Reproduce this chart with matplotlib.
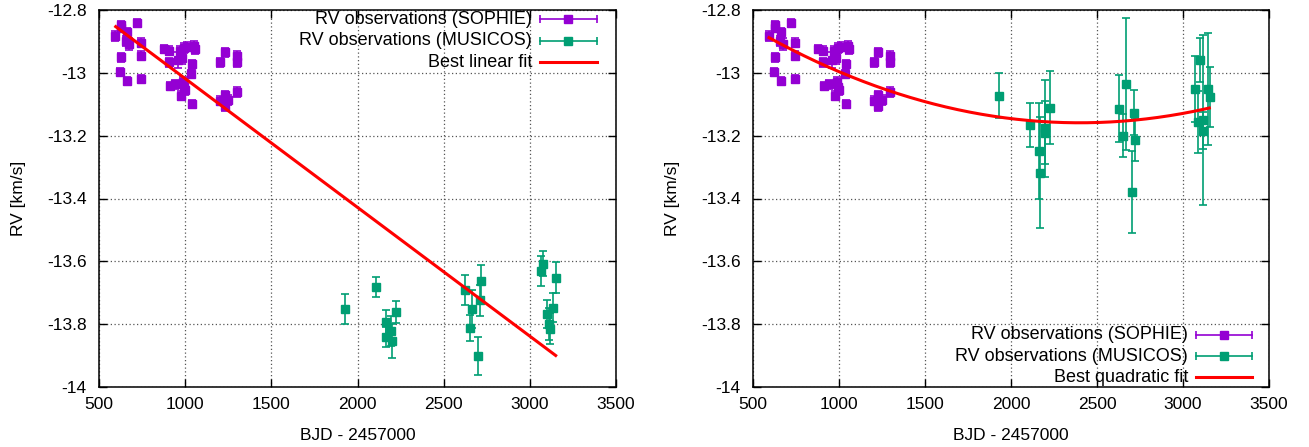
import numpy as np
import matplotlib
matplotlib.use("Agg")
import matplotlib.pyplot as plt
from matplotlib.ticker import FormatStrFormatter

plt.rcParams['font.family'] = ['Liberation Sans', 'DejaVu Sans']
plt.rcParams['font.size'] = 12

# ---------------- data ----------------
sophie_t = [593, 626, 630, 661, 655, 676, 626, 622, 662, 719, 742, 742, 742, 877, 908, 908,
            912, 939, 957, 970, 981, 993, 1012, 977, 995, 999, 989, 1034, 1038, 1039, 1051,
            1057, 1202, 1229, 1202, 1229, 1248, 1229, 1299, 1299, 1299]
sophie_rv = [-12.882, -12.848, -12.858, -12.871, -12.898, -12.908, -12.951, -12.997, -13.026,
             -12.842, -12.904, -12.946, -13.019, -12.924, -12.930, -12.966, -13.042, -13.037,
             -12.960, -12.930, -12.954, -12.920, -12.917, -13.073, -13.044, -13.055, -13.028,
             -13.005, -12.973, -13.099, -12.914, -12.925, -12.967, -12.935, -13.089, -13.071,
             -13.087, -13.106, -12.946, -12.965, -13.060]
sophie_err = [0.016, 0.012, 0.012, 0.014, 0.015, 0.018, 0.014, 0.012, 0.013, 0.012, 0.014,
              0.014, 0.013, 0.014, 0.014, 0.014, 0.014, 0.013, 0.026, 0.016, 0.018, 0.016,
              0.014, 0.015, 0.014, 0.016, 0.016, 0.013, 0.014, 0.014, 0.016, 0.016, 0.014,
              0.014, 0.014, 0.014, 0.015, 0.014, 0.014, 0.016, 0.016]

mus_l_t = [1927, 2105, 2163, 2163, 2194, 2200, 2223, 2621, 2664, 2652, 2716, 2710, 2698,
           3066, 3079, 3149, 3137, 3097, 3110, 3116]
mus_l_rv = [-13.751, -13.681, -13.793, -13.840, -13.821, -13.853, -13.761, -13.691, -13.752,
            -13.812, -13.663, -13.724, -13.902, -13.630, -13.608, -13.652, -13.748, -13.768,
            -13.799, -13.814]
mus_l_err = [0.047, 0.032, 0.037, 0.032, 0.047, 0.055, 0.036, 0.047, 0.060, 0.040, 0.050,
             0.050, 0.060, 0.048, 0.040, 0.050, 0.046, 0.045, 0.050, 0.050]

mus_r_t = [1929, 2109, 2161, 2169, 2196, 2199, 2227, 2628, 2649, 2667, 2703, 2713, 2719,
           3070, 3085, 3100, 3115, 3115, 3144, 3157]
mus_r_rv = [-13.073, -13.165, -13.248, -13.318, -13.176, -13.190, -13.111, -13.114, -13.200,
            -13.035, -13.379, -13.127, -13.213, -13.051, -13.156, -12.959, -13.150, -13.184,
            -13.051, -13.076]
mus_r_err = [0.071, 0.070, 0.152, 0.177, 0.154, 0.100, 0.117, 0.107, 0.068, 0.210, 0.130,
             0.072, 0.068, 0.106, 0.099, 0.069, 0.270, 0.060, 0.178, 0.096]

# linear fit: rv = lin_rv0 + lin_slope * (t - lin_t0), plotted over lin_range
lin_t0, lin_rv0, lin_slope = 597.0, -12.853, -4.10e-4
lin_range = (597, 3150)
# quadratic fit in vertex form: rv = q_rv0 + q_curv * (t - q_t0)**2
q_t0, q_rv0, q_curv = 2400.0, -13.159, 8.30e-8
q_range = (593, 3153)

xticks = [500, 1000, 1500, 2000, 2500, 3000, 3500]
yticks = [-14, -13.8, -13.6, -13.4, -13.2, -13, -12.8]

labels_left = ["RV observations (SOPHIE)", "RV observations (MUSICOS)", "Best linear fit"]
labels_right = ["RV observations (SOPHIE)", "RV observations (MUSICOS)", "Best quadratic fit"]

C_SOPHIE = '#9400D3'
C_MUS = '#009E73'
C_FIT = '#FF0000'

FS = 12.5
FS_LEG = 13

# ---------------- figure ----------------
fig = plt.figure(figsize=(13.09, 4.47), dpi=100)
ax1 = fig.add_axes([99 / 1309, 1 - 387 / 447, 517 / 1309, 377 / 447])
ax2 = fig.add_axes([753 / 1309, 1 - 387 / 447, 516 / 1309, 377 / 447])


def style(ax):
    ax.set_xlim(500, 3500)
    ax.set_ylim(-14, -12.8)
    ax.set_xticks(xticks)
    ax.set_yticks(yticks)
    ax.yaxis.set_major_formatter(FormatStrFormatter('%g'))
    ax.tick_params(direction='in', top=True, right=True, length=6, width=1,
                   labelsize=FS, pad=7)
    ax.tick_params(axis='y', pad=9)
    ax.grid(True, color='#555555', linestyle=(0, (1, 2)), linewidth=0.9)
    ax.set_axisbelow(True)
    for s in ax.spines.values():
        s.set_linewidth(1.1)
        s.set_color('black')
    ax.set_xlabel('BJD - 2457000', fontsize=FS)
    ax.set_ylabel('RV [km/s]', fontsize=FS)
    ax.xaxis.set_label_coords(0.5, -0.108)
    ax.yaxis.set_label_coords(-0.142, 0.5)


def errpts(ax, t, rv, err, color):
    ax.errorbar(t, rv, yerr=err, fmt='s', color=color, ms=5.8, mec=color,
                ecolor=color, elinewidth=1.2, capsize=3, capthick=1.2, zorder=3)


def manual_legend(ax, labels, ys, xtext, xs0, xs1):
    colors = [C_SOPHIE, C_MUS]
    for i in range(2):
        ax.text(xtext, ys[i], labels[i], transform=ax.transAxes, ha='right',
                va='center', fontsize=FS_LEG)
        ax.plot([xs0, xs1], [ys[i], ys[i]], color=colors[i], lw=1.2, marker='|',
                ms=6, mew=1.2, transform=ax.transAxes, clip_on=False, zorder=5)
        ax.plot([(xs0 + xs1) / 2], [ys[i]], 's', color=colors[i], ms=5.8,
                transform=ax.transAxes, clip_on=False, zorder=6)
    ax.text(xtext, ys[2], labels[2], transform=ax.transAxes, ha='right',
            va='center', fontsize=FS_LEG)
    ax.plot([xs0, xs1], [ys[2], ys[2]], color=C_FIT, lw=2.2,
            transform=ax.transAxes, clip_on=False, zorder=5)


# left panel
style(ax1)
errpts(ax1, sophie_t, sophie_rv, sophie_err, C_SOPHIE)
errpts(ax1, mus_l_t, mus_l_rv, mus_l_err, C_MUS)
tl = np.linspace(*lin_range, 200)
ax1.plot(tl, lin_rv0 + lin_slope * (tl - lin_t0), color=C_FIT, lw=2.2, zorder=4)
manual_legend(ax1, labels_left, [0.976, 0.918, 0.862], 0.8375, 0.853, 0.963)

# right panel
style(ax2)
errpts(ax2, sophie_t, sophie_rv, sophie_err, C_SOPHIE)
errpts(ax2, mus_r_t, mus_r_rv, mus_r_err, C_MUS)
tq = np.linspace(*q_range, 300)
ax2.plot(tq, q_rv0 + q_curv * (tq - q_t0) ** 2, color=C_FIT, lw=2.2, zorder=4)
manual_legend(ax2, labels_right, [0.138, 0.082, 0.0265], 0.843, 0.8585, 0.967)

fig.savefig('out.png', dpi=100)
